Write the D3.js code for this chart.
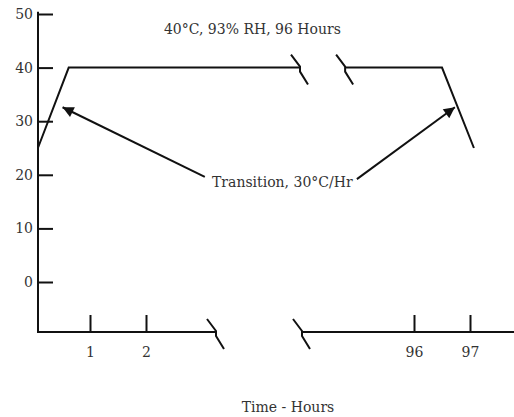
<!DOCTYPE html>
<meta charset="utf-8">
<script src="https://d3js.org/d3.v7.min.js"></script>
<style>
  body { margin: 0; background: #fff; }
  text { font-family: "DejaVu Serif", serif; font-size: 14px; fill: #333; }
  .ln { fill: none; stroke: #111; stroke-width: 2px; }
</style>
<body>
<div id="chart"></div>
<script>
  // temperature ticks and time ticks
  var yTicks = [0, 10, 20, 30, 40, 50];
  var xTicksLeft = [1, 2];
  var xTicksRight = [96, 97];

  // test profile, hours vs degC (split by the time break)
  var profileStart = [[0.07, 25], [0.62, 40], [4.75, 40]];
  var profileEnd = [[94.77, 40], [96.5, 40], [97.07, 25]];

  // annotation arrows [tail, tip]
  var arrowLeft = [[3.05, 19.6], [0.51, 32.6]];
  var arrowRight = [[94.98, 19.2], [96.73, 32.6]];

  var width = 514, height = 417;

  var svg = d3.select("#chart").append("svg")
    .attr("width", width)
    .attr("height", height);

  var xL = d3.scaleLinear().domain([0, 5]).range([34, 314]);
  var xR = d3.scaleLinear().domain([93, 98]).range([246, 526]);
  var y = d3.scaleLinear().domain([0, 50]).range([282, 14]);

  var x0 = 38, yBase = 332;

  svg.append("defs").append("marker")
    .attr("id", "head")
    .attr("viewBox", "0 0 10 10")
    .attr("refX", 10).attr("refY", 5)
    .attr("markerWidth", 7.5).attr("markerHeight", 5.5)
    .attr("markerUnits", "strokeWidth")
    .attr("orient", "auto")
    .append("path")
      .attr("d", "M0,0L10,5L0,10z")
      .attr("fill", "#111");

  // y axis
  svg.append("line").attr("class", "ln")
    .attr("x1", x0).attr("x2", x0)
    .attr("y1", y(50.4)).attr("y2", yBase + 1);

  var gy = svg.append("g")
    .attr("transform", "translate(" + x0 + ",0)")
    .call(d3.axisLeft(y).tickValues(yTicks).tickFormat(d3.format("d"))
      .tickSizeInner(-15).tickSizeOuter(0).tickPadding(5));
  gy.select(".domain").remove();
  gy.selectAll(".tick line").attr("stroke", "#111").attr("stroke-width", 2);
  gy.selectAll("text").attr("fill", "#333").style("font-family", "DejaVu Serif").style("font-size", "14px");

  // x axis, two pieces around the break
  svg.append("line").attr("class", "ln")
    .attr("x1", x0 - 1).attr("x2", xL(3.25))
    .attr("y1", yBase).attr("y2", yBase);
  svg.append("line").attr("class", "ln")
    .attr("x1", xR(94.0)).attr("x2", width)
    .attr("y1", yBase).attr("y2", yBase);

  function xAxis(g, scale, vals) {
    g.attr("transform", "translate(0," + yBase + ")")
      .call(d3.axisBottom(scale).tickValues(vals).tickFormat(d3.format("d"))
        .tickSizeInner(-17).tickSizeOuter(0).tickPadding(15));
    g.select(".domain").remove();
    g.selectAll(".tick line").attr("stroke", "#111").attr("stroke-width", 2);
    g.selectAll("text").attr("fill", "#333").style("font-family", "DejaVu Serif").style("font-size", "14px");
  }
  svg.append("g").call(xAxis, xL, xTicksLeft);
  svg.append("g").call(xAxis, xR, xTicksRight);

  // break glyph
  function brk(px, py) {
    svg.append("path").attr("class", "ln")
      .attr("transform", "translate(" + px + "," + py + ")")
      .attr("d", "M-9,-13L0,-1L0,4L8,17");
  }
  brk(xL(3.25), yBase);
  brk(xR(94.0), yBase);

  // profile
  var line = function (sx) {
    return d3.line().x(function (d) { return sx(d[0]); }).y(function (d) { return y(d[1]); });
  };
  svg.append("path").attr("class", "ln").attr("d", line(xL)(profileStart));
  svg.append("path").attr("class", "ln").attr("d", line(xR)(profileEnd));
  brk(xL(4.75), y(40));
  brk(xR(94.77), y(40));

  // arrows
  svg.append("path").attr("class", "ln").attr("marker-end", "url(#head)")
    .attr("d", line(xL)(arrowLeft));
  svg.append("path").attr("class", "ln").attr("marker-end", "url(#head)")
    .attr("d", line(xR)(arrowRight));

  // labels
  svg.append("text")
    .attr("x", xL(3.9)).attr("y", y(46.3))
    .attr("text-anchor", "middle")
    .text("40°C, 93% RH, 96 Hours");

  svg.append("text")
    .attr("x", 212).attr("y", 187)
    .text("Transition, 30°C/Hr");

  svg.append("text")
    .attr("x", 288).attr("y", 412)
    .attr("text-anchor", "middle")
    .text("Time - Hours");
</script>
</body>
</html>
